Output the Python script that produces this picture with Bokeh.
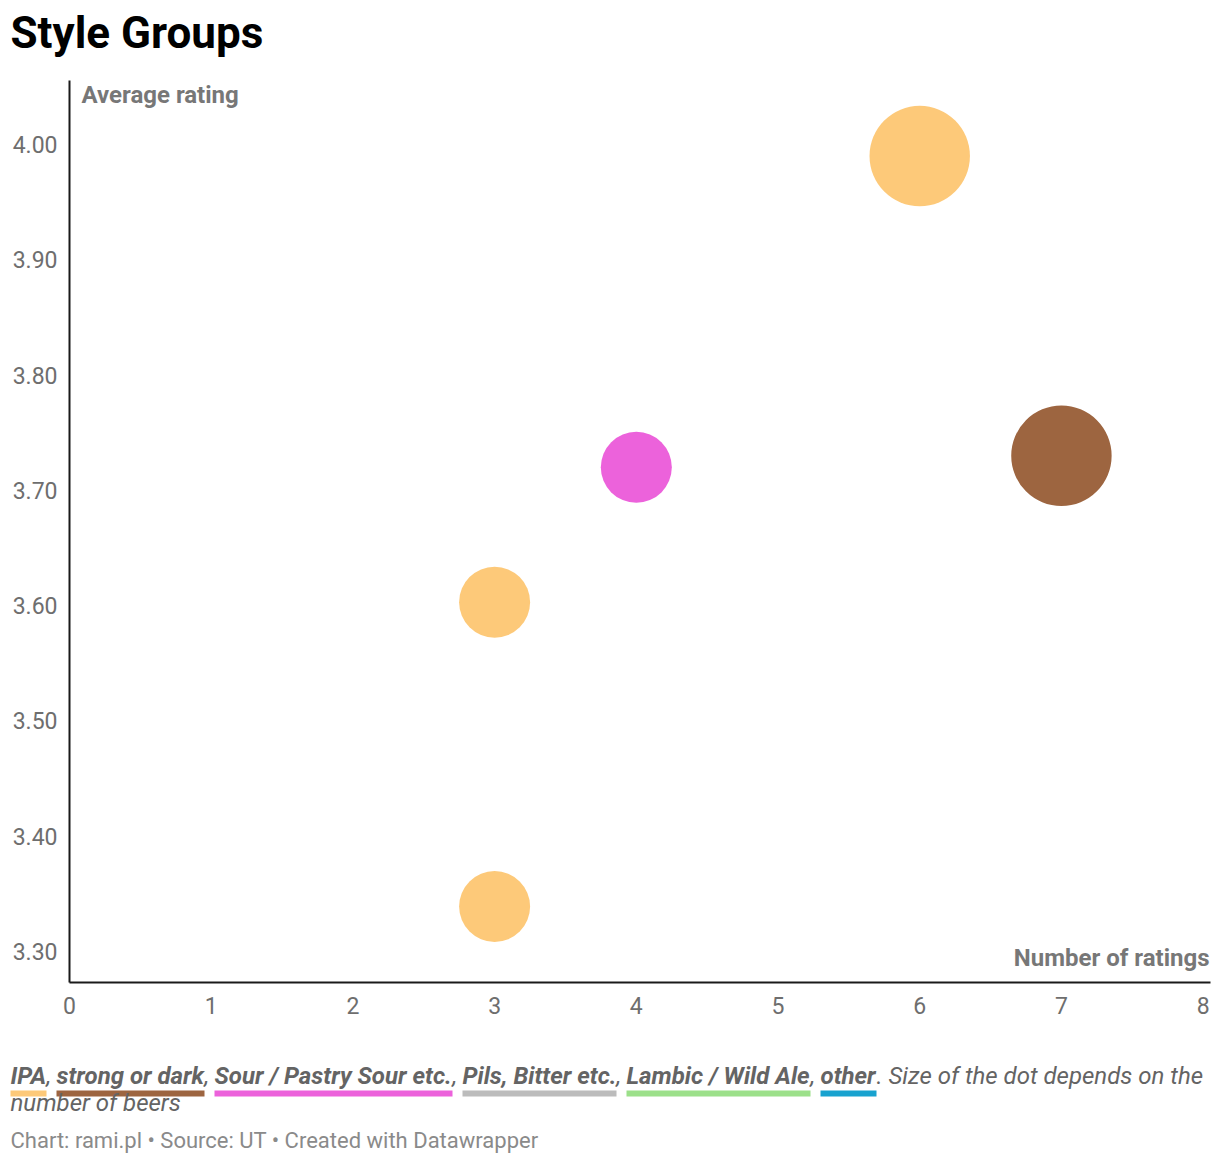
from bokeh.plotting import figure
from bokeh.layouts import column
from bokeh.models import (Label, FixedTicker, NumeralTickFormatter,
                          Range1d, ColumnDataSource)
from bokeh.embed import file_html
from bokeh.resources import INLINE
import math

# ---------------- data ----------------
chart_title = "Style Groups"
x_title = "Number of ratings"
y_title = "Average rating"
footer = "Chart: rami.pl \u2022 Source: UT \u2022 Created with Datawrapper"
note_tail = ". Size of the dot depends on the"
note_line2 = "number of beers"

styles = ["IPA", "strong or dark", "Sour / Pastry Sour etc.", "Pils, Bitter etc.",
          "Lambic / Wild Ale", "other"]
style_colors = ["#fdc979", "#9d6540", "#ec62db", "#bcbcbc", "#9ce08a", "#18a2cf"]

point_style = ["IPA", "strong or dark", "Sour / Pastry Sour etc.", "IPA", "IPA"]
num_ratings = [6, 7, 4, 3, 3]
avg_rating = [3.99, 3.73, 3.72, 3.603, 3.339]
num_beers = [2, 2, 1, 1, 1]

x_ticks = [0, 1, 2, 3, 4, 5, 6, 7, 8]
y_ticks = [3.30, 3.40, 3.50, 3.60, 3.70, 3.80, 3.90, 4.00]

# ---------------- layout / style ----------------
FONT = "Roboto"
OX, OY = 0, 0                 # observed canvas origin in the screenshot
W = 1220
TOP_H = 80 - OY               # title strip: window y 0 .. 80
FL = 69 - OX                  # main frame: window x 69 .. 1210, y 80 .. 982
FW, FH, FB = 1141, 902, 60
MAIN_TOP = OY + TOP_H
BOT_TOP = MAIN_TOP + FH + FB  # window y 1042
BOT_H = 1160 - BOT_TOP
BASE_SIZE = 71
BASELINE_FIX = 0.32           # observed baseline drift, in em


def blank(height):
    f = figure(width=W, height=height, output_backend="svg", toolbar_location=None,
               x_range=Range1d(0, W), y_range=Range1d(height, 0),
               x_axis_location=None, y_axis_location=None,
               min_border=0, min_border_left=0, min_border_right=0,
               min_border_top=0, min_border_bottom=0)
    f.frame_align = False
    f.grid.visible = False
    f.outline_line_color = None
    f.background_fill_color = "white"
    f.border_fill_color = "white"
    return f


def lab(fig, text, x, y, size, style="normal", color="#666666", align="left",
        units="data"):
    px = float(size.replace("px", ""))
    shift = BASELINE_FIX * px
    # data units in strips run downward; screen units in the main frame run upward
    y = y - shift if units == "data" else y + shift
    fig.add_layout(Label(x=x, y=y, x_units=units, y_units=units,
                         text=text, text_font=FONT, text_font_size=size,
                         text_font_style=style, text_color=color,
                         text_align=align, text_baseline="alphabetic"))


# ---- title strip ----
top = blank(TOP_H)
lab(top, chart_title, 10 - OX, 47 - OY, "44px", "bold", "#000000")

# ---- main scatter ----
color_of = dict(zip(styles, style_colors))
src = ColumnDataSource(dict(
    x=num_ratings,
    y=avg_rating,
    style=point_style,
    color=[color_of[s] for s in point_style],
    size=[BASE_SIZE * math.sqrt(b) for b in num_beers],
))

p = figure(width=W, height=FH + FB, output_backend="svg", toolbar_location=None,
           x_range=Range1d(0, 8.052), y_range=Range1d(3.2731, 4.0555),
           min_border_left=FL, min_border_right=W - FL - FW,
           min_border_top=0, min_border_bottom=FB)
p.frame_align = False
p.outline_line_color = None
p.xgrid.visible = False
p.ygrid.visible = False
p.background_fill_color = "white"
p.border_fill_color = "white"

p.scatter("x", "y", size="size", fill_color="color", line_color=None, source=src)

for ax in (p.xaxis[0], p.yaxis[0]):
    ax.axis_line_color = "#1a1a1a"
    ax.axis_line_width = 2
    ax.major_tick_line_color = None
    ax.minor_tick_line_color = None
    ax.major_tick_out = 0
    ax.major_tick_in = 0
    ax.minor_tick_out = 0
    ax.major_label_text_font = FONT
    ax.major_label_text_font_size = "23px"
    ax.major_label_text_color = "#6e6e6e"

p.xaxis[0].ticker = FixedTicker(ticks=x_ticks)
p.xaxis[0].major_label_standoff = 14
p.yaxis[0].ticker = FixedTicker(ticks=y_ticks)
p.yaxis[0].formatter = NumeralTickFormatter(format="0.00")
p.yaxis[0].major_label_standoff = 12

frame_left = OX + FL
frame_bottom = MAIN_TOP + FH
lab(p, y_title, 81 - frame_left, frame_bottom - 102, "24px", "bold", "#777777",
    units="screen")
lab(p, x_title, 1209 - frame_left, frame_bottom - 965, "24px", "bold", "#777777",
    align="right", units="screen")

# ---- colour key note + footer ----
bot = blank(BOT_H)
seg_start = [10, 56, 214, 462, 626, 820]
seg_end = [46, 204, 452, 616, 810, 876]
bot.quad(left=[s - OX for s in seg_start], right=[e - OX for e in seg_end],
         top=[1090 - BOT_TOP] * len(styles), bottom=[1096 - BOT_TOP] * len(styles),
         fill_color=style_colors, line_color=None)
for i, name in enumerate(styles):
    lab(bot, name, seg_start[i] - OX, 1083 - BOT_TOP, "24px", "bold italic", "#646464")
    if i < len(styles) - 1:
        lab(bot, ",", seg_end[i] - OX, 1083 - BOT_TOP, "24px", "italic", "#646464")
lab(bot, note_tail, seg_end[-1] - OX, 1083 - BOT_TOP, "24px", "italic", "#646464")
lab(bot, note_line2, 10 - OX, 1110 - BOT_TOP, "24px", "italic", "#646464")
lab(bot, footer, 10 - OX, 1147 - BOT_TOP, "22px", "normal", "#8a8a8a")

layout = column(top, p, bot, spacing=0)
open("out.html", "w").write(file_html(layout, INLINE))
